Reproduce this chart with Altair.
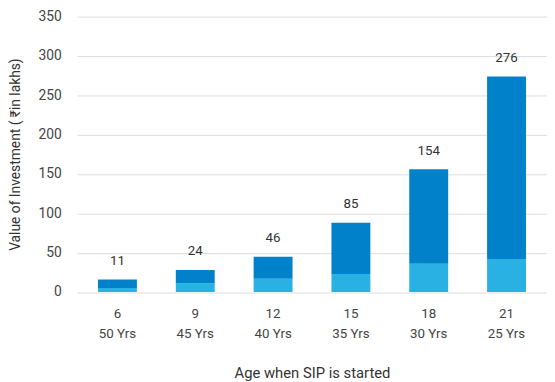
import altair as alt
import pandas as pd

ages = ["6", "9", "12", "15", "18", "21"]
years = ["50 Yrs", "45 Yrs", "40 Yrs", "35 Yrs", "30 Yrs", "25 Yrs"]
invested = [5, 11, 17, 23, 36, 42]
total = [16, 28, 45, 88, 156, 274]
labels = [11, 24, 46, 85, 154, 276]

df = pd.DataFrame({
    "cat": [f"{a}|{y}" for a, y in zip(ages, years)],
    "invested": invested,
    "total": total,
    "label": labels,
})

order = list(df["cat"])
font = "Roboto"

x = alt.X("cat:N", sort=order, title="Age when SIP is started",
          scale=alt.Scale(paddingInner=0.5, paddingOuter=0.27),
          axis=alt.Axis(labelExpr="split(datum.label, '|')", labelAngle=0,
                        labelFontSize=13.5, labelColor="#444", labelLineHeight=20,
                        labelPadding=15, labelBaseline="top",
                        ticks=False, domain=False, grid=False,
                        titleFontSize=15, titleColor="#333", titleFontWeight="normal",
                        titleBaseline="middle", titleY=82))

yscale = alt.Scale(domain=[0, 350])
ytitle = "Value of Investment ( ₹in lakhs)"
yaxis = alt.Axis(values=[0, 50, 100, 150, 200, 250, 300, 350],
                 labelFontSize=14, labelColor="#444", labelPadding=16,
                 labelOverlap=False, labelFlush=False,
                 ticks=False, domain=False, gridColor="#dddddd",
                 titleFontSize=14, titleColor="#333", titleFontWeight="normal",
                 titleBaseline="middle", titleAngle=-90,
                 titleX=-62, titleY=139.5)

base = alt.Chart(df)

light = base.mark_bar(color="#2AB1E4").encode(
    x=x,
    y=alt.Y("invested:Q", scale=yscale, title=ytitle, axis=yaxis),
    y2=alt.Y2(datum=0),
)

dark = base.mark_bar(color="#0281CB").encode(
    x=x,
    y=alt.Y("total:Q", scale=yscale, title=ytitle, axis=yaxis),
    y2="invested:Q",
)

text = base.mark_text(dy=-19, fontSize=13.5, color="#333", baseline="middle", font=font).encode(
    x=x,
    y=alt.Y("total:Q", scale=yscale, title=ytitle, axis=yaxis),
    text="label:Q",
)

chart = alt.layer(light, dark, text).properties(
    width=477, height=279.5,
    autosize=alt.AutoSizeParams(type="none"),
    padding={"left": 70, "top": 6, "right": 0, "bottom": 88},
).configure(font=font).configure_view(stroke=None)

chart.save("out.html", embed_options={"renderer": "svg", "actions": False})
